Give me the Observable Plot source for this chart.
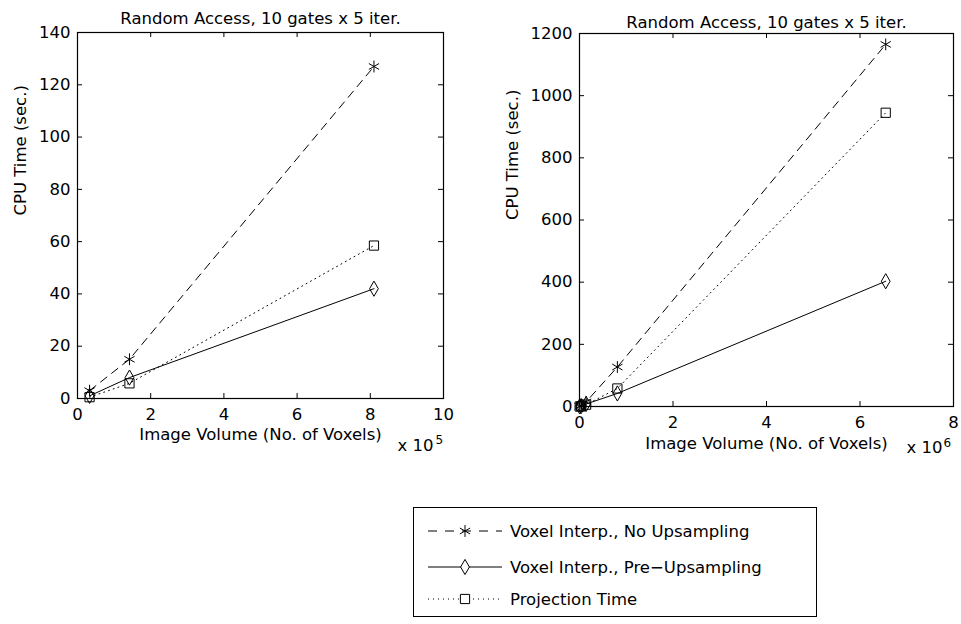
<!DOCTYPE html>
<html><head><meta charset="utf-8">
<script src="https://cdn.jsdelivr.net/npm/d3@7"></script>
<script src="https://cdn.jsdelivr.net/npm/@observablehq/plot@0.6"></script>
<style>
body{margin:0;background:#fff;}
#fig{position:relative;width:961px;height:624px;background:#fff;font-family:"DejaVu Sans",sans-serif;}
#fig svg{position:absolute;overflow:visible;}
#legend{position:absolute;left:413px;top:507px;width:404px;height:110px;border:1px solid #000;box-sizing:border-box;}
</style></head><body><div id="fig"></div>
<script>
// ---- data ----
const seriesNames = ["Voxel Interp., No Upsampling", "Voxel Interp., Pre\u2212Upsampling", "Projection Time"];
const titleText = "Random Access, 10 gates x 5 iter.";
const xLabelText = "Image Volume (No. of Voxels)";
const yLabelText = "CPU Time (sec.)";

const leftVoxels = [33000, 142000, 810000];
const leftNoUp = [3, 15, 127];
const leftPreUp = [1, 8, 42];
const leftProj = [0.5, 5.8, 58.5];
const leftXTicks = [0, 2, 4, 6, 8, 10];
const leftYTicks = [0, 20, 40, 60, 80, 100, 120, 140];

const rightVoxels = [4100, 33000, 142000, 810000, 6550000];
const rightNoUp = [0.4, 3, 15, 127, 1165];
const rightPreUp = [0.1, 1, 8, 42, 403];
const rightProj = [0.1, 0.5, 5.8, 58, 945];
const rightXTicks = [0, 2, 4, 6, 8];
const rightYTicks = [0, 200, 400, 600, 800, 1000, 1200];

const styles = [
  {dash: "8,6", symbol: "asterisk", r: 5.6},
  {dash: null, symbol: "diamond", r: 4.6},
  {dash: "1,4", symbol: "square", r: 5.2}
];
const FONT = 16.5;

function panel(opts) {
  const {voxels, series, scale, exp, xTicks, yTicks, xDomain, yDomain, left, top, width, height, ml, mr, mt, mb, titleDy, xlabDy, ylabDx, expDx, expDy, supDx, supDy, tickPad} = opts;
  const iw = width - ml - mr, ih = height - mt - mb;
  const marks = [];
  series.forEach((vals, i) => {
    const rows = vals.map((v, j) => ({x: voxels[j] / scale, y: v}));
    marks.push(Plot.line(rows, {x: "x", y: "y", stroke: "black", strokeWidth: 1, strokeDasharray: styles[i].dash}));
    marks.push(Plot.dot(rows, {x: "x", y: "y", symbol: () => styles[i].symbol, r: styles[i].r, stroke: "black", fill: "none", strokeWidth: 1}));
  });
  marks.push(
    Plot.frame({stroke: "black", strokeWidth: 1.2}),
    Plot.tickX(xTicks, {x: d => d, insetTop: ih - 5, stroke: "black"}),
    Plot.tickX(xTicks, {x: d => d, insetBottom: ih - 5, stroke: "black"}),
    Plot.tickY(yTicks, {y: d => d, insetRight: iw - 5, stroke: "black"}),
    Plot.tickY(yTicks, {y: d => d, insetLeft: iw - 5, stroke: "black"}),
    Plot.axisX(xTicks, {tickSize: 0, tickPadding: tickPad, label: null, tickFormat: d => String(d)}),
    Plot.axisY(yTicks, {tickSize: 0, tickPadding: 7, label: null, tickFormat: d => String(d)}),
    Plot.text([titleText], {text: d => d, frameAnchor: "top", dy: titleDy, fontSize: FONT}),
    Plot.text([xLabelText], {text: d => d, frameAnchor: "bottom", dy: xlabDy, fontSize: FONT}),
    Plot.text([yLabelText], {text: d => d, frameAnchor: "left", dx: ylabDx, rotate: -90, fontSize: FONT}),
    Plot.text(["x 10"], {text: d => d, frameAnchor: "bottom-right", textAnchor: "end", dx: expDx, dy: expDy, fontSize: FONT}),
    Plot.text([exp], {text: d => d, frameAnchor: "bottom-right", textAnchor: "start", dx: supDx, dy: supDy, fontSize: 12})
  );
  const svg = Plot.plot({
    width, height,
    marginLeft: ml, marginRight: mr, marginTop: mt, marginBottom: mb,
    x: {domain: xDomain, axis: null},
    y: {domain: yDomain, axis: null},
    style: {fontFamily: "DejaVu Sans, sans-serif", fontSize: FONT + "px", color: "black", background: "transparent", overflow: "visible"},
    marks
  });
  svg.style.left = left + "px";
  svg.style.top = top + "px";
  return svg;
}

const fig = document.getElementById("fig");
fig.appendChild(panel({
  voxels: leftVoxels, series: [leftNoUp, leftPreUp, leftProj], scale: 1e5, exp: "5",
  xTicks: leftXTicks, yTicks: leftYTicks, xDomain: [0, 10], yDomain: [0, 140],
  left: 0, top: 0, width: 480, height: 470, ml: 77, mr: 37, mt: 32, mb: 72, tickPad: 10,
  titleDy: -20, xlabDy: 41, ylabDx: -57, expDx: -10, expDy: 52, supDx: -8, supDy: 45
}));
fig.appendChild(panel({
  voxels: rightVoxels, series: [rightNoUp, rightPreUp, rightProj], scale: 1e6, exp: "6",
  xTicks: rightXTicks, yTicks: rightYTicks, xDomain: [0, 8], yDomain: [0, 1200],
  left: 480, top: 0, width: 481, height: 470, ml: 99, mr: 8, mt: 33, mb: 64, tickPad: 10,
  titleDy: -17, xlabDy: 42, ylabDx: -67, expDx: -11, expDy: 46, supDx: -10, supDy: 40
}));

// ---- legend ----
const legend = document.createElement("div");
legend.id = "legend";
fig.appendChild(legend);
const lsvg = d3.select(legend).append("svg").attr("width", 404).attr("height", 110).style("left", "0px").style("top", "0px");
const symMap = {asterisk: d3.symbolAsterisk, diamond: d3.symbolDiamond, square: d3.symbolSquare};
const rowY = [23, 59, 91];
seriesNames.forEach((name, i) => {
  const g = lsvg.append("g");
  g.append("line").attr("x1", 14).attr("x2", 88).attr("y1", rowY[i]).attr("y2", rowY[i])
    .attr("stroke", "black").attr("stroke-width", 1).attr("stroke-dasharray", i === 0 ? "9,8" : (i === 2 ? "1,4" : null));
  const st = styles[i];
  g.append("path").attr("d", d3.symbol(symMap[st.symbol], Math.PI * st.r * st.r)())
    .attr("transform", `translate(51,${rowY[i]})`).attr("fill", "white").attr("stroke", "black").attr("stroke-width", 1);
  g.append("text").attr("x", 96).attr("y", rowY[i]).attr("dy", "0.35em")
    .attr("font-family", "DejaVu Sans, sans-serif").attr("font-size", FONT).text(name);
});
</script>
</body></html>
